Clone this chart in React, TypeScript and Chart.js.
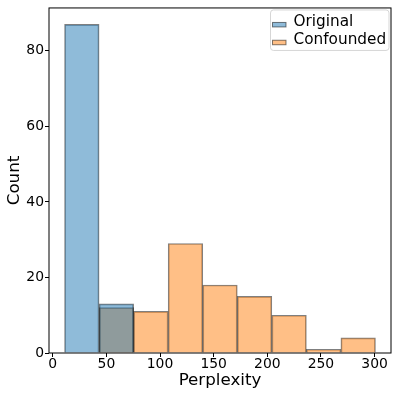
import React, { useEffect, useRef } from 'react';
import { Chart, registerables } from 'chart.js';

Chart.register(...registerables);

// Histogram bin edges (shared by both series) and counts
const binEdges = [11.0, 43.2, 75.4, 107.6, 139.8, 172.0, 204.2, 236.4, 268.6, 300.8];
const originalCounts = [87, 13, 0, 0, 0, 0, 0, 0, 0];
const confoundedCounts = [0, 12, 11, 29, 18, 15, 10, 1, 4];
const seriesLabels = ['Original', 'Confounded'];
const xTicks = [0, 50, 100, 150, 200, 250, 300];
const yTicks = [0, 20, 40, 60, 80];
const xRange = [-3.5, 315.3];
const yRange = [0, 91.35];
const xTitle = 'Perplexity';
const yTitle = 'Count';

const FONT = "'DejaVu Sans', 'Liberation Sans', sans-serif";
const EDGE = 'rgba(0,0,0,0.5)';
const BLUE = 'rgba(31,119,180,0.5)';
const ORANGE = 'rgba(255,127,14,0.5)';

function toPoints(counts: number[]) {
  return counts
    .map((c, i) => ({ x: (binEdges[i] + binEdges[i + 1]) / 2, y: c }))
    .filter((p) => p.y > 0);
}

const mplPlugin = {
  id: 'mplDecor',
  afterDraw(chart: any) {
    const ctx = chart.ctx as CanvasRenderingContext2D;
    const a = chart.chartArea;
    ctx.save();
    // spines
    ctx.strokeStyle = '#000';
    ctx.lineWidth = 1;
    ctx.strokeRect(a.left, a.top, a.right - a.left, a.bottom - a.top);

    // legend
    const bx = a.right - 120.5;
    const by = a.top + 2;
    const bw = 118.5;
    const bh = 40.5;
    const r = 3;
    ctx.beginPath();
    ctx.moveTo(bx + r, by);
    ctx.lineTo(bx + bw - r, by);
    ctx.quadraticCurveTo(bx + bw, by, bx + bw, by + r);
    ctx.lineTo(bx + bw, by + bh - r);
    ctx.quadraticCurveTo(bx + bw, by + bh, bx + bw - r, by + bh);
    ctx.lineTo(bx + r, by + bh);
    ctx.quadraticCurveTo(bx, by + bh, bx, by + bh - r);
    ctx.lineTo(bx, by + r);
    ctx.quadraticCurveTo(bx, by, bx + r, by);
    ctx.closePath();
    ctx.fillStyle = 'rgba(255,255,255,0.8)';
    ctx.fill();
    ctx.strokeStyle = 'rgba(204,204,204,0.8)';
    ctx.lineWidth = 1;
    ctx.stroke();

    const ds = chart.data.datasets;
    ctx.font = `15.3px ${FONT}`;
    ctx.textBaseline = 'alphabetic';
    ctx.textAlign = 'left';
    ds.forEach((d: any, i: number) => {
      const baseY = by + 16 + i * 17.8;
      ctx.fillStyle = '#fff';
      ctx.fillRect(bx + 2, baseY - 3.5, 13.5, 4.5);
      ctx.fillStyle = d.backgroundColor;
      ctx.fillRect(bx + 2, baseY - 3.5, 13.5, 4.5);
      ctx.strokeStyle = EDGE;
      ctx.strokeRect(bx + 2, baseY - 3.5, 13.5, 4.5);
      ctx.fillStyle = '#000';
      ctx.fillText(d.label, bx + 23, baseY);
    });
    ctx.restore();
  },
};

export default function App() {
  const ref = useRef<HTMLCanvasElement | null>(null);

  useEffect(() => {
    if (!ref.current) return;
    const tickFont = { family: FONT, size: 13.9, lineHeight: 1 };
    const titleFont = { family: FONT, size: 16.7, lineHeight: 1.2 };
    const grid = {
      display: true,
      drawOnChartArea: false,
      drawTicks: true,
      tickLength: 4,
      color: '#000',
      lineWidth: 1,
      offset: false,
    };
    const chart = new Chart(ref.current, {
      type: 'bar',
      data: {
        datasets: [
          {
            label: seriesLabels[0],
            data: toPoints(originalCounts),
            backgroundColor: BLUE,
            borderColor: EDGE,
            borderWidth: 1,
            barPercentage: 1,
            categoryPercentage: 1,
            grouped: false,
          },
          {
            label: seriesLabels[1],
            data: toPoints(confoundedCounts),
            backgroundColor: ORANGE,
            borderColor: EDGE,
            borderWidth: 1,
            barPercentage: 1,
            categoryPercentage: 1,
            grouped: false,
          },
        ],
      } as any,
      options: {
        responsive: false,
        animation: false,
        devicePixelRatio: 1,
        layout: { padding: { top: 7, right: 8, left: 0, bottom: 0 } },
        plugins: { legend: { display: false }, tooltip: { enabled: false } },
        scales: {
          x: {
            type: 'linear',
            offset: false,
            min: xRange[0],
            max: xRange[1],
            afterBuildTicks: (s: any) => {
              s.ticks = xTicks.map((v) => ({ value: v }));
            },
            afterFit: (s: any) => {
              s.height = 46;
            },
            ticks: {
              font: tickFont,
              color: '#000',
              padding: 0,
              autoSkip: false,
              maxRotation: 0,
              includeBounds: false,
            },
            grid,
            border: { display: false },
            title: {
              display: true,
              text: xTitle,
              font: titleFont,
              color: '#000',
              padding: { top: 0, bottom: 8.5 },
            },
          },
          y: {
            type: 'linear',
            offset: false,
            min: yRange[0],
            max: yRange[1],
            afterBuildTicks: (s: any) => {
              s.ticks = yTicks.map((v) => ({ value: v }));
            },
            afterFit: (s: any) => {
              s.width = 49;
            },
            ticks: {
              font: tickFont,
              color: '#000',
              padding: 1,
              autoSkip: false,
              includeBounds: false,
            },
            grid,
            border: { display: false },
            title: {
              display: true,
              text: yTitle,
              font: titleFont,
              color: '#000',
              padding: { top: 5, bottom: 0 },
            },
          },
        },
      } as any,
      plugins: [mplPlugin],
    });
    return () => chart.destroy();
  }, []);

  return (
    <div style={{ position: 'absolute', left: 0, top: 0, width: 399, height: 399, background: '#fff' }}>
      <canvas ref={ref} width={399} height={399} style={{ width: 399, height: 399, display: 'block' }} />
    </div>
  );
}
